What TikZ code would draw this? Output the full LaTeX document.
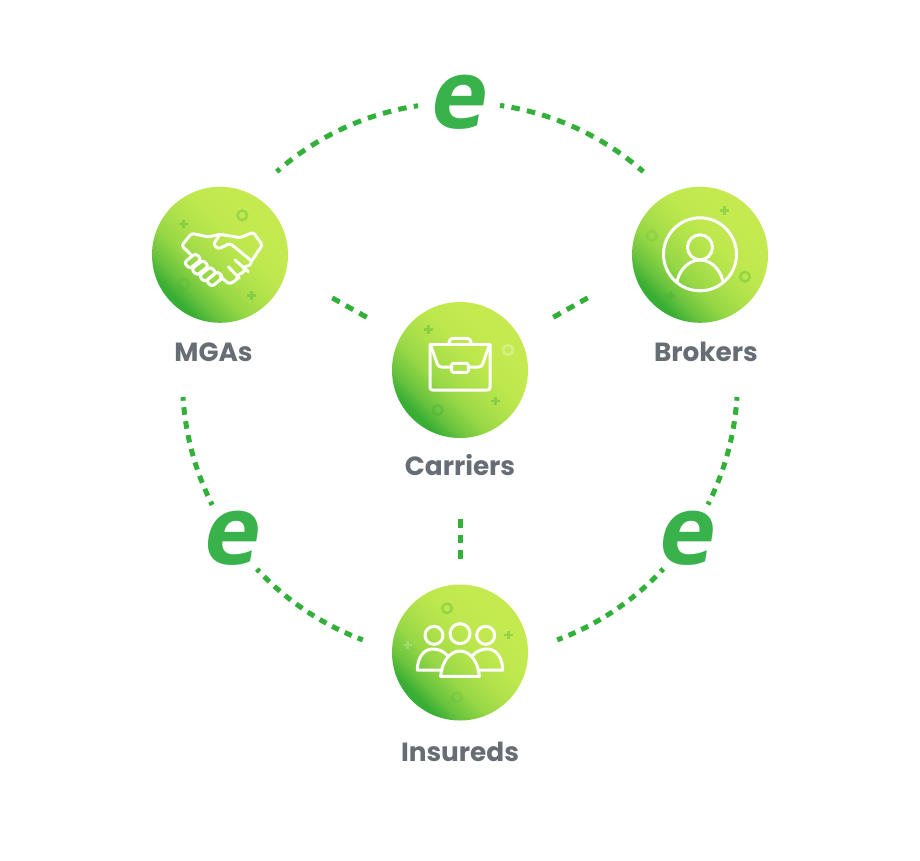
\documentclass[tikz,border=0pt]{standalone}
\usepackage{fontspec}
\newfontfamily\labfont{Poppins}
\newfontfamily\efont[FakeSlant=0.16]{Open Sans}
\usetikzlibrary{calc}
\definecolor{dashgreen}{HTML}{33B03A}
\definecolor{egreen}{HTML}{39B24C}
\definecolor{labelgrey}{HTML}{676D75}
\definecolor{sdark}{HTML}{38AE34}
\definecolor{sb}{HTML}{6CC43E}
\definecolor{sc}{HTML}{98D847}
\definecolor{sd}{HTML}{AEE14A}
\definecolor{se}{HTML}{BFE84E}
\definecolor{sf}{HTML}{C4EA50}
\pgfdeclarehorizontalshading{leaf}{100bp}{color(0bp)=(sdark); color(27bp)=(sdark); color(33bp)=(sb); color(41bp)=(sc); color(49bp)=(sd); color(58bp)=(se); color(68bp)=(sf); color(100bp)=(sf)}
\tikzset{
  hub/.style={circle,inner sep=0pt,minimum size=136pt,shading=leaf,shading angle=45},
  lab/.style={inner sep=0pt,anchor=base,text=labelgrey,font=\labfont\bfseries\fontsize{26.3}{27}\selectfont},
  elogo/.style={inner sep=0pt,text=egreen,font=\efont\bfseries\fontsize{96}{96}\selectfont},
  dashline/.style={draw=dashgreen,line width=5pt,dash pattern=on 8.5pt off 7pt},
  longarc/.style={draw=dashgreen,line width=5pt,dash pattern=on 8.5pt off 7.3pt,dash phase=4.25pt},
  shortarc/.style={draw=dashgreen,line width=5pt,dash pattern=on 7.6pt off 6.5pt,dash phase=3.8pt},
  icon/.style={draw=white,line width=3pt,line join=round,line cap=round},
  ringd/.style={draw=sdark,draw opacity=.3,line width=2.5pt},
  ringl/.style={draw=white,draw opacity=.3,line width=2.5pt},
  ringg/.style={draw=sdark,draw opacity=.16,line width=2.5pt},
  plusd/.style={draw=sdark,draw opacity=.35,line width=2.9pt},
  plusl/.style={draw=white,draw opacity=.2,line width=2.9pt},
}
\newcommand{\ringat}[3]{\draw[#1] (#2,#3) circle[radius=4.8];}
\newcommand{\plusat}[3]{\draw[#1] (#2-4.3,#3) -- (#2+4.3,#3) (#2,#3-4.3) -- (#2,#3+4.3);}
\begin{document}
\begin{tikzpicture}[x=1pt,y=-1pt]
\useasboundingbox (0,0) rectangle (920,861);
\fill[white] (0,0) rectangle (920,861);
\coordinate (c) at (460,380);
% hubs
\node[hub] (mgas) at (220,254.8) {};
\node[hub] (brokers) at (700,254.8) {};
\node[hub] (carriers) at (460,370) {};
\node[hub] (insureds) at (460,652.5) {};
% labels
\node[lab] (lmgas) at (213.5,361.5) {MGAs};
\node[lab] (lbrokers) at (706,361.5) {Brokers};
\node[lab] (lcarriers) at (460,475.5) {Carriers};
\node[lab] (linsureds) at (460,761.5) {Insureds};
% e marks
\node[elogo] (etop) at (455.5,102.5) {e};
\node[elogo] (eleft) at (229,538.5) {e};
\node[elogo] (eright) at (684,538.5) {e};
% ring arcs
\coordinate (a1) at ($(c)+(228.66:277.5)$);
\coordinate (a2) at ($(c)+(278.3:277.5)$);
\coordinate (a3) at ($(c)+(176.5:277.5)$);
\coordinate (a4) at ($(c)+(137.05:277.5)$);
\coordinate (a5) at ($(c)+(3.5:277.5)$);
\coordinate (a6) at ($(c)+(42.9:277.5)$);
\draw[longarc] (a1) arc[start angle=228.66,end angle=261.3,radius=277.5];
\draw[longarc] (a2) arc[start angle=278.3,end angle=311.34,radius=277.5];
\draw[shortarc] (a3) arc[start angle=176.5,end angle=153.25,radius=277.5];
\draw[shortarc] (a4) arc[start angle=137.05,end angle=110.5,radius=277.5];
\draw[shortarc] (a5) arc[start angle=3.5,end angle=26.66,radius=277.5];
\draw[shortarc] (a6) arc[start angle=42.9,end angle=69.5,radius=277.5];
% short links
\coordinate (s1) at (332.3,297.9); \coordinate (s2) at (366.9,317.4);
\coordinate (s3) at (587.7,297.9); \coordinate (s4) at (553.1,317.4);
\coordinate (s5) at (460,519.2);   \coordinate (s6) at (460,558.7);
\draw[dashline] (s1) -- (s2);
\draw[dashline] (s3) -- (s4);
\draw[dashline] (s5) -- (s6);
% decorations
\plusat{plusd}{183.7}{224}\ringat{ringd}{242.3}{215.3}\ringat{ringg}{184}{284}\plusat{plusd}{251.3}{295.7}
\plusat{plusd}{724.3}{210.7}\ringat{ringg}{651.7}{235.7}\ringat{ringd}{745}{276.7}\plusat{plusd}{670.7}{295.7}
\plusat{plusd}{428.7}{329.7}\ringat{ringl}{508}{350}\plusat{plusd}{495.7}{401}\ringat{ringd}{437.7}{410}
\ringat{ringd}{447}{608.3}\plusat{plusd}{508.7}{635}\plusat{plusl}{407.7}{645}\ringat{ringg}{457}{697.3}
% handshake
\begin{scope}[shift={(140,175)},scale=1/3]
\draw[icon,rounded corners=2.5pt] (152,238) -- (125,212) -- (155,175) -- (205,186) -- (240,178) -- (300,188) -- (340,172) -- (367,210) -- (335,258);
\draw[icon,rounded corners=2.5pt] (240,178) -- (220,208) -- (235,222) -- (270,205) -- (335,258) -- (330,272) -- (310,275) -- (315,290) -- (295,298) -- (290,315) -- (268,327) -- (240,305);
\draw[icon] (285,255) -- (325,290);
\draw[icon] (265,275) -- (298,310);
\foreach \px/\py in {158/258,180/278,203/298,224/312}{
  \draw[icon,rounded corners=3pt] (\px-26,\py+5) -- (\px+9,\py-23) -- (\px+26,\py-5) -- (\px-9,\py+23) -- cycle;
}
\end{scope}
% person
\draw[icon] (700,254.3) circle[radius=36.5];
\draw[icon] (700,247.3) circle[radius=12.5];
\draw[icon] (676.9,281.7) .. controls (680,268) and (690,260) .. (700,260) .. controls (710,260) and (720,268) .. (723.1,281.7);
% briefcase
\begin{scope}[shift={(380,295)},scale=1/3]
\draw[icon,rounded corners=2.5pt] (150,148) -- (150,285) -- (330,285) -- (330,148);
\draw[icon] (150,148) -- (330,148);
\draw[icon,rounded corners=4pt] (207,148) -- (207,130) -- (273,130) -- (273,148);
\draw[icon,rounded corners=3pt] (152,150) -- (175,216) -- (215,216);
\draw[icon,rounded corners=3pt] (328,150) -- (305,216) -- (265,216);
\draw[icon,rounded corners=1.5pt] (215,205) rectangle (265,232);
\end{scope}
% people
\begin{scope}[shift={(380,575)},scale=1/3]
\draw[icon] (162,181) circle[radius=27];
\draw[icon] (240,176) circle[radius=30];
\draw[icon] (317,181) circle[radius=27];
\draw[icon] (182,304) -- (298,304) .. controls (295,260) and (270,228) .. (240,228) .. controls (210,228) and (185,260) .. (182,304) -- cycle;
\draw[icon] (186,285) -- (112,285) .. controls (112,250) and (130,222) .. (158,222) .. controls (175,222) and (190,228) .. (203,242);
\draw[icon] (294,285) -- (368,285) .. controls (368,250) and (350,222) .. (322,222) .. controls (305,222) and (290,228) .. (277,242);
\end{scope}
\end{tikzpicture}
\end{document}
